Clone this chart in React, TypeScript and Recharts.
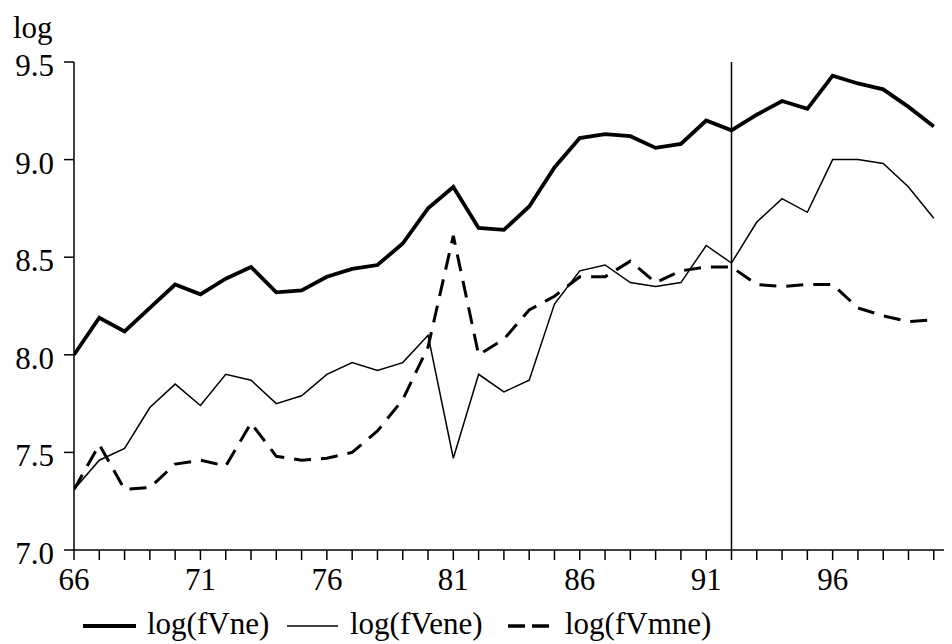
import React from "react";
import { LineChart, Line, XAxis, YAxis, ReferenceLine, Customized } from "recharts";

const years = [66, 67, 68, 69, 70, 71, 72, 73, 74, 75, 76, 77, 78, 79, 80, 81, 82, 83, 84, 85, 86, 87, 88, 89, 90, 91, 92, 93, 94, 95, 96, 97, 98, 99, 100];
const fVne = [8.00, 8.19, 8.12, 8.24, 8.36, 8.31, 8.39, 8.45, 8.32, 8.33, 8.40, 8.44, 8.46, 8.57, 8.75, 8.86, 8.65, 8.64, 8.76, 8.96, 9.11, 9.13, 9.12, 9.06, 9.08, 9.20, 9.15, 9.23, 9.30, 9.26, 9.43, 9.39, 9.36, 9.27, 9.17];
const fVene = [7.31, 7.46, 7.52, 7.73, 7.85, 7.74, 7.90, 7.87, 7.75, 7.79, 7.90, 7.96, 7.92, 7.96, 8.10, 7.47, 7.90, 7.81, 7.87, 8.26, 8.43, 8.46, 8.37, 8.35, 8.37, 8.56, 8.47, 8.68, 8.80, 8.73, 9.00, 9.00, 8.98, 8.86, 8.70];
const fVmne = [7.31, 7.54, 7.31, 7.32, 7.44, 7.46, 7.43, 7.65, 7.48, 7.46, 7.47, 7.50, 7.61, 7.77, 8.04, 8.61, 8.00, 8.08, 8.23, 8.30, 8.40, 8.40, 8.48, 8.37, 8.43, 8.45, 8.45, 8.36, 8.35, 8.36, 8.36, 8.24, 8.20, 8.17, 8.18];
const yTicks = [7.0, 7.5, 8.0, 8.5, 9.0, 9.5];
const labelledYears = [66, 71, 76, 81, 86, 91, 96];
const splitYear = 92;
const seriesNames = ["log(fVne)", "log(fVene)", "log(fVmne)"];

const data = years.map((year, i) => ({ year, fVne: fVne[i], fVene: fVene[i], fVmne: fVmne[i] }));

const FONT = "Liberation Serif";
const FS = 31;

const XTick = (props: any) => {
  const { x, y, payload } = props;
  const v = payload.value;
  if (!labelledYears.includes(v)) return <g />;
  return (
    <text x={x} y={y} dy={22} textAnchor="middle" fontFamily={FONT} fontSize={FS} fill="#000">
      {String(v)}
    </text>
  );
};

const YTick = (props: any) => {
  const { x, y, payload } = props;
  return (
    <text x={x} y={y} dy={14} textAnchor="end" fontFamily={FONT} fontSize={FS} fill="#000">
      {Number(payload.value).toFixed(1)}
    </text>
  );
};

const TopLabel = () => (
  <text x={5} y={30} fontFamily={FONT} fontSize={FS} fill="#000">log</text>
);

const LegendBlock = () => {
  const items = [
    { name: seriesNames[0], x1: 75, x2: 128, tx: 139, w: 4, dash: undefined },
    { name: seriesNames[1], x1: 279, x2: 330, tx: 342, w: 1.5, dash: undefined },
    { name: seriesNames[2], x1: 500, x2: 541, tx: 557, w: 3.5, dash: "17 7" },
  ];
  return (
    <g>
      {items.map((it) => (
        <g key={it.name}>
          <line x1={it.x1} x2={it.x2} y1={618} y2={618} stroke="#000" strokeWidth={it.w} strokeDasharray={it.dash} />
          <text x={it.tx} y={626} fontFamily={FONT} fontSize={FS} fill="#000">{it.name}</text>
        </g>
      ))}
    </g>
  );
};

export default function App() {
  return (
    <LineChart width={944} height={636} data={data} margin={{ top: 54, right: 0, bottom: 44, left: 0 }}>
      <XAxis
        type="number"
        dataKey="year"
        domain={[66, 100.72]}
        ticks={years}
        interval={0}
        allowDataOverflow
        tickSize={10}
        tickMargin={8}
        height={50}
        tick={<XTick />}
        axisLine={{ stroke: "#000", strokeWidth: 1.5 }}
        tickLine={{ stroke: "#000", strokeWidth: 1.5 }}
      />
      <YAxis
        type="number"
        domain={[7, 9.5]}
        ticks={yTicks}
        interval={0}
        width={66}
        tickSize={10}
        tickMargin={10}
        tick={<YTick />}
        axisLine={{ stroke: "#000", strokeWidth: 1.5 }}
        tickLine={{ stroke: "#000", strokeWidth: 1.5 }}
      />
      <ReferenceLine x={splitYear} stroke="#000" strokeWidth={1.5} />
      <Line dataKey="fVene" name={seriesNames[1]} stroke="#000" strokeWidth={1.5} dot={false} isAnimationActive={false} />
      <Line dataKey="fVmne" name={seriesNames[2]} stroke="#000" strokeWidth={3} strokeDasharray="17 10" dot={false} isAnimationActive={false} />
      <Line dataKey="fVne" name={seriesNames[0]} stroke="#000" strokeWidth={3.8} dot={false} isAnimationActive={false} />
      <Customized component={TopLabel} />
      <Customized component={LegendBlock} />
    </LineChart>
  );
}
